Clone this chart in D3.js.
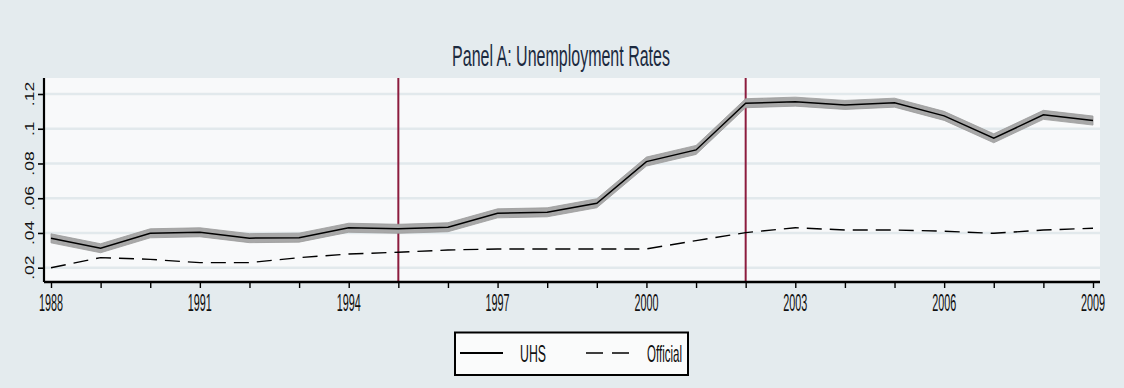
<!DOCTYPE html>
<html>
<head>
<meta charset="utf-8">
<script src="https://cdn.jsdelivr.net/npm/d3@7"></script>
<style>
  html, body { margin: 0; padding: 0; background: #e4ebee; }
  svg { display: block; }
  text { font-family: "Liberation Sans", Arial, sans-serif; }
</style>
</head>
<body>
<svg id="chart" width="1124" height="388"></svg>
<script>
// ---- data ----
const years = [1988,1989,1990,1991,1992,1993,1994,1995,1996,1997,1998,1999,2000,2001,2002,2003,2004,2005,2006,2007,2008,2009];
const uhs = [0.0369,0.0312,0.0398,0.0404,0.0370,0.0373,0.0430,0.0424,0.0433,0.0513,0.0519,0.0571,0.0811,0.0878,0.1147,0.1156,0.1137,0.1150,0.1074,0.0945,0.1080,0.1047];
const uhsLower = [0.0343,0.0286,0.0372,0.0378,0.0344,0.0347,0.0404,0.0398,0.0407,0.0487,0.0493,0.0545,0.0785,0.0852,0.1121,0.1130,0.1111,0.1124,0.1048,0.0919,0.1054,0.1021];
const uhsUpper = [0.0395,0.0338,0.0424,0.0430,0.0396,0.0399,0.0456,0.0450,0.0459,0.0539,0.0545,0.0597,0.0837,0.0904,0.1173,0.1182,0.1163,0.1176,0.1100,0.0971,0.1106,0.1073];
const official = [0.0200,0.0258,0.0248,0.0229,0.0229,0.0258,0.0279,0.0289,0.0302,0.0308,0.0308,0.0308,0.0308,0.0356,0.0402,0.0430,0.0417,0.0417,0.0410,0.0398,0.0417,0.0427];
const yTicks = [0.02,0.04,0.06,0.08,0.10,0.12];
const yTickLabels = [".02",".04",".06",".08",".1",".12"];
const xLabelYears = [1988,1991,1994,1997,2000,2003,2006,2009];
const refYears = [1995, 2002];
const title = "Panel A: Unemployment Rates";
const legendLabels = ["UHS","Official"];

// ---- layout ----
const svg = d3.select("#chart");
const plot = {left: 44, right: 1100, top: 78, bottom: 282};
const x = d3.scaleLinear().domain([1988, 2009]).range([51, 1093]);
const y = d3.scaleLinear().domain([0.02, 0.12]).range([267.7, 94]);

svg.append("rect").attr("width",1124).attr("height",388).attr("fill","#e4ebee");
svg.append("rect")
  .attr("x",plot.left).attr("y",plot.top)
  .attr("width",plot.right-plot.left).attr("height",plot.bottom-plot.top)
  .attr("fill","#f8f9fa");

// gridlines
svg.append("g").selectAll("line").data(yTicks).join("line")
  .attr("x1",plot.left).attr("x2",plot.right)
  .attr("y1",d=>y(d)).attr("y2",d=>y(d))
  .attr("stroke","#e2e9ec").attr("stroke-width",2.5);

// reference lines
svg.append("g").selectAll("line").data(refYears).join("line")
  .attr("x1",d=>x(d)).attr("x2",d=>x(d))
  .attr("y1",plot.top).attr("y2",plot.bottom)
  .attr("stroke","#8c1c3e").attr("stroke-width",2);

// band
const area = d3.area().x((d,i)=>x(years[i])).y0((d,i)=>y(uhsLower[i])).y1((d,i)=>y(uhsUpper[i]));
svg.append("path").datum(uhs).attr("d",area)
  .attr("fill","#a8a8a8").attr("stroke","#9a9a9a").attr("stroke-width",0.8);

const line = d3.line().x((d,i)=>x(years[i])).y(d=>y(d));
svg.append("path").datum(uhs).attr("d",line)
  .attr("fill","none").attr("stroke","#000").attr("stroke-width",1.5);
svg.append("path").datum(official).attr("d",line)
  .attr("fill","none").attr("stroke","#000").attr("stroke-width",1.4)
  .attr("stroke-dasharray","15,8");

// y axis
const yAxis = svg.append("g").attr("transform",`translate(${plot.left},0)`)
  .call(d3.axisLeft(y).tickValues(yTicks).tickSize(6).tickFormat(""));
yAxis.select(".domain").attr("d",`M0,${plot.top}V${plot.bottom}`).attr("stroke","#000").attr("stroke-width",2.2);
yAxis.selectAll(".tick line").attr("stroke","#000").attr("stroke-width",1.6);
svg.append("g").selectAll("text").data(yTicks).join("text")
  .attr("transform",d=>`translate(33.5,${y(d)}) rotate(-90) scale(1,0.78)`)
  .attr("text-anchor","middle")
  .attr("font-size",17.5).attr("fill","#111")
  .text((d,i)=>yTickLabels[i]);

// x axis
const xAxis = svg.append("g").attr("transform",`translate(0,${plot.bottom})`)
  .call(d3.axisBottom(x).tickValues(years).tickSize(6).tickFormat(""));
xAxis.select(".domain").attr("d",`M${plot.left},0H${plot.right}`).attr("stroke","#000").attr("stroke-width",2.4);
xAxis.selectAll(".tick line").attr("stroke","#000").attr("stroke-width",1.4);
svg.append("g").selectAll("text").data(xLabelYears).join("text")
  .attr("transform",d=>`translate(${x(d)},310.5) scale(0.46,1)`)
  .attr("text-anchor","middle")
  .attr("font-size",23.5).attr("fill","#111")
  .text(d=>d);

// helper to fit text horizontally
function fitText(sel, target) {
  const w = sel.node().getComputedTextLength();
  const cx = +sel.attr("data-x"), cy = +sel.attr("data-y");
  sel.attr("transform",`translate(${cx},${cy}) scale(${target/w},1)`);
}

// title
const t = svg.append("text").attr("data-x",561).attr("data-y",66)
  .attr("text-anchor","middle").attr("font-size",30).attr("fill","#1c2a40")
  .text(title);
fitText(t, 218);

// legend
const lg = svg.append("g");
lg.append("rect").attr("x",455).attr("y",332.5).attr("width",233).attr("height",42.5)
  .attr("fill","#fafbfb").attr("stroke","#000").attr("stroke-width",2);
lg.append("line").attr("x1",460).attr("x2",503).attr("y1",353).attr("y2",353)
  .attr("stroke","#000").attr("stroke-width",1.8);
lg.append("line").attr("x1",586).attr("x2",629).attr("y1",353).attr("y2",353)
  .attr("stroke","#000").attr("stroke-width",1.6).attr("stroke-dasharray","17,9");
const l1 = lg.append("text").attr("data-x",520).attr("data-y",361.5).attr("font-size",23).attr("fill","#111").text(legendLabels[0]);
fitText(l1, 26);
const l2 = lg.append("text").attr("data-x",647).attr("data-y",361.5).attr("font-size",23).attr("fill","#111").text(legendLabels[1]);
fitText(l2, 35);
</script>
</body>
</html>
